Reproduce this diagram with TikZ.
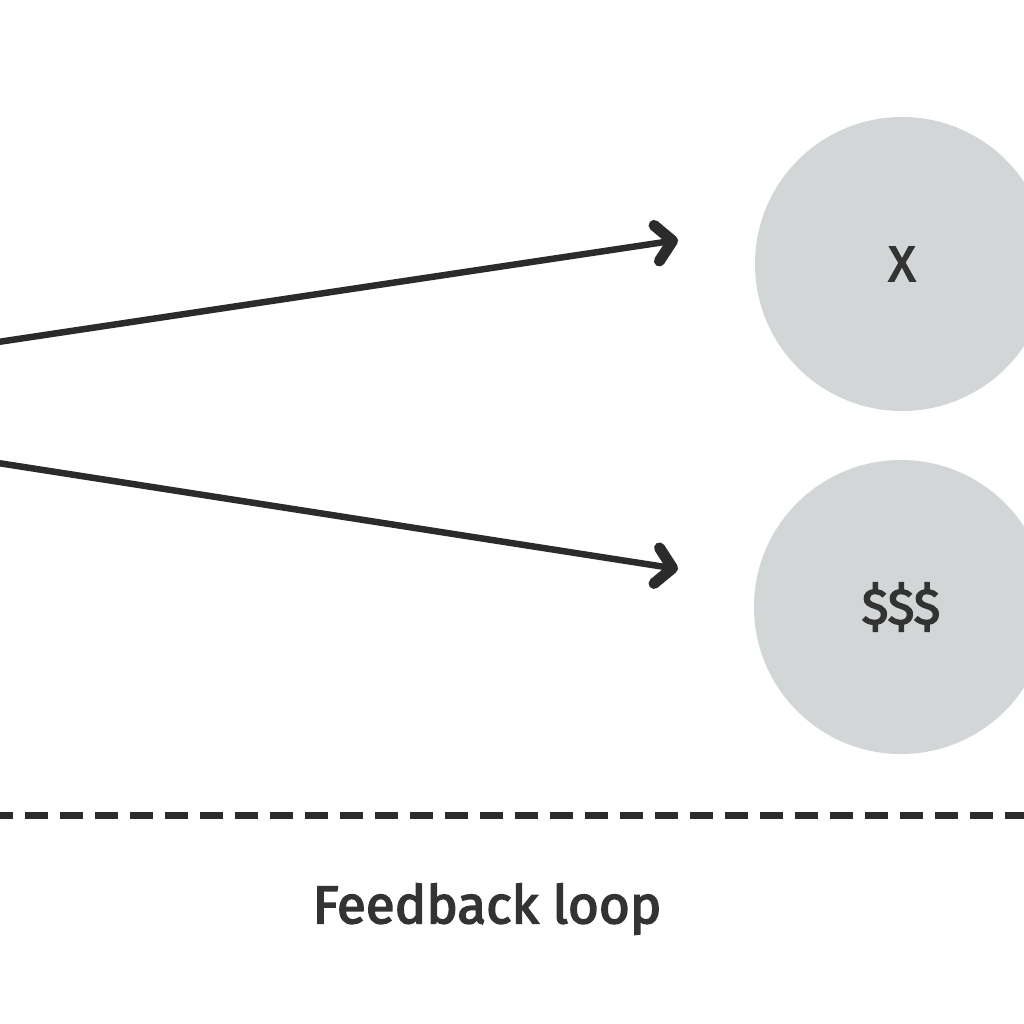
\documentclass[tikz,border=0pt]{standalone}
\usepackage{fontspec}
\setmainfont{Fira Sans}[RawFeature={embolden=3}]
\usetikzlibrary{arrows.meta}
\definecolor{ink}{HTML}{2B2B2B}
\definecolor{txt}{HTML}{333333}
\definecolor{disc}{HTML}{D3D6D6}
\begin{document}
\begin{tikzpicture}[x=1pt,y=-1pt,
  conn/.style={draw=ink,line width=6.5pt,
    -{Straight Barb[length=16pt,width=36pt,round,line width=11pt]}},
  disk/.style={circle,fill=disc,minimum size=294pt,inner sep=0pt,
    text=txt,font=\fontsize{50}{58}\selectfont},
  loopline/.style={draw=ink,line width=7pt,dash pattern=on 23pt off 12pt,dash phase=10pt},
  caption/.style={text=txt,font=\fontsize{53}{62}\selectfont}]
\clip (0,0) rectangle (1024,1024);
\fill[white] (0,0) rectangle (1024,1024);
\node[disk] (cx) at (902,264) {X};
\node[disk] (cd) at (901,607) {\$\$\$};
\coordinate (s1) at (-2,342);
\coordinate (t1) at (678,240);
\coordinate (s2) at (-2,463);
\coordinate (t2) at (678,569);
\draw[conn] (s1) -- (t1);
\draw[conn] (s2) -- (t2);
\coordinate (d1) at (0,815);
\coordinate (d2) at (1024,815);
\draw[loopline] (d1) -- (d2);
\node[caption] (fb) at (487,909) {Feedback loop};
\end{tikzpicture}
\end{document}
